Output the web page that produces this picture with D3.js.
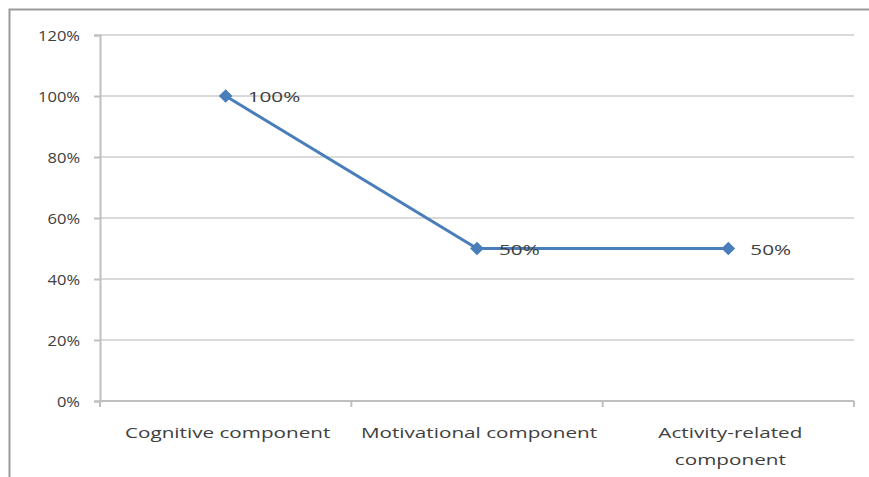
<!DOCTYPE html>
<html>
<head>
<meta charset="utf-8">
<script src="https://cdn.jsdelivr.net/npm/d3@7"></script>
<style>
  html, body { margin: 0; padding: 0; background: #fff; }
  svg { display: block; }
  text { font-family: "Open Sans", "Liberation Sans", sans-serif; fill: #404040; }
</style>
</head>
<body>
<svg id="chart" width="869" height="477"></svg>
<script>
// Share of each component
const categories = ["Cognitive component", "Motivational component", "Activity-related component"];
const values = [1.0, 0.5, 0.5];
const valueLabels = ["100%", "50%", "50%"];
const yTicks = [0, 0.2, 0.4, 0.6, 0.8, 1.0, 1.2];
const yTickLabels = ["0%", "20%", "40%", "60%", "80%", "100%", "120%"];

const svg = d3.select("#chart");
const W = 869, H = 477;
const plot = { left: 100, right: 854, top: 35, bottom: 401 };
const wide = 1.38;   // horizontal stretch of the category / value text
const wideY = 1.1;   // horizontal stretch of the y tick text

// chart frame (top and left edges)
svg.append("path")
  .attr("d", `M9.5,${H} L9.5,9.5 L${W},9.5`)
  .attr("fill", "none")
  .attr("stroke", "#9a9a9a")
  .attr("stroke-width", 2);

const x = d3.scaleBand().domain(categories).range([plot.left, plot.right]).padding(0);
const y = d3.scaleLinear().domain([0, 1.2]).range([plot.bottom, plot.top]);

// horizontal gridlines
svg.append("g").selectAll("line")
  .data(yTicks.filter(d => d > 0))
  .join("line")
  .attr("x1", plot.left).attr("x2", plot.right)
  .attr("y1", d => y(d)).attr("y2", d => y(d))
  .attr("stroke", "#d9d9d9").attr("stroke-width", 2);

// y axis
const yAxis = d3.axisLeft(y).tickValues(yTicks)
  .tickFormat((d, i) => yTickLabels[i]).tickSize(6).tickPadding(0);
const gy = svg.append("g").attr("transform", `translate(${plot.left},0)`).call(yAxis);
gy.select(".domain").attr("stroke", "#bfbfbf").attr("stroke-width", 2);
gy.selectAll(".tick line").attr("stroke", "#bfbfbf").attr("stroke-width", 2);
gy.selectAll(".tick text")
  .attr("x", null)
  .attr("transform", `translate(-20,1) scale(${wideY},1)`)
  .style("font-size", "15px").attr("fill", "#404040");

// x axis
const gx = svg.append("g").attr("transform", `translate(0,${plot.bottom})`);
gx.append("line").attr("x1", plot.left).attr("x2", plot.right)
  .attr("stroke", "#bfbfbf").attr("stroke-width", 2);
gx.selectAll("line.tk")
  .data(categories.map(c => x(c)).concat([plot.right]))
  .join("line").attr("class", "tk")
  .attr("x1", d => d).attr("x2", d => d).attr("y1", 0).attr("y2", 6)
  .attr("stroke", "#bfbfbf").attr("stroke-width", 2);

// category labels, wrapping the long one
const wrapLines = {
  "Cognitive component": ["Cognitive component"],
  "Motivational component": ["Motivational component"],
  "Activity-related component": ["Activity-related", "component"]
};
categories.forEach(c => {
  wrapLines[c].forEach((ln, i) => {
    gx.append("text")
      .attr("transform", `translate(${x(c) + x.bandwidth() / 2 + 2},${37 + i * 27}) scale(${wide},1)`)
      .attr("text-anchor", "middle")
      .style("font-size", "15px")
      .text(ln);
  });
});

// series line
const cx = d => x(d) + x.bandwidth() / 2;
const line = d3.line().x(d => cx(d.c)).y(d => y(d.v));
const pts = categories.map((c, i) => ({ c, v: values[i], label: valueLabels[i] }));
svg.append("path").datum(pts)
  .attr("d", line)
  .attr("fill", "none")
  .attr("stroke", "#4a7ebb")
  .attr("stroke-width", 3);

// diamond markers
svg.append("g").selectAll("path")
  .data(pts).join("path")
  .attr("d", d3.symbol(d3.symbolDiamond2 || d3.symbolDiamond, 120))
  .attr("transform", d => `translate(${cx(d.c)},${y(d.v)})`)
  .attr("fill", "#4a7ebb");

// value labels
svg.append("g").selectAll("text")
  .data(pts).join("text")
  .attr("transform", d => `translate(${cx(d.c) + 22},${y(d.v) + 6}) scale(${wide},1)`)
  .style("font-size", "15px")
  .text(d => d.label);
</script>
</body>
</html>
